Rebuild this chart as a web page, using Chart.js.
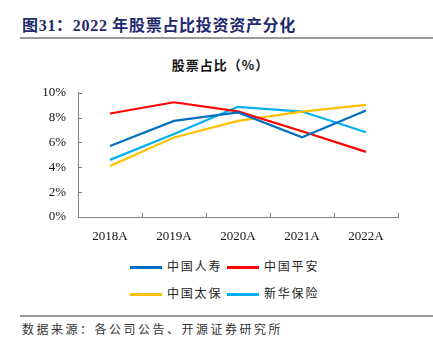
<!DOCTYPE html>
<html>
<head>
<meta charset="utf-8">
<script src="https://cdn.jsdelivr.net/npm/chart.js@4"></script>
<style>
  body { margin: 0; width: 433px; height: 351px; background: #fff; position: relative; overflow: hidden;
         font-family: "Liberation Serif", "Noto Sans CJK SC", serif; }
  .title { position: absolute; left: 22px; top: 12px; font-size: 16px; font-weight: bold; color: #1f2a6e; white-space: nowrap; letter-spacing: 0.7px; }
  .rule { position: absolute; left: 20px; right: 0; height: 2px; background: #9a9a9a; }
  .subtitle { position: absolute; left: 4px; width: 433px; top: 55px; text-align: center; font-size: 13px; font-weight: bold;
              font-family: "Noto Sans CJK SC", sans-serif; color: #111; letter-spacing: 1px; }
  #wrap { position: absolute; left: 0; top: 73px; width: 433px; height: 177px; }
  .legend { position: absolute; font-family: "Noto Sans CJK SC", sans-serif; font-size: 12px; color: #222; letter-spacing: 1.8px; }
  .legend .item { position: absolute; white-space: nowrap; }
  .legend .swatch { position: absolute; top: 7px; width: 32px; height: 3px; }
  .legend .txt { position: absolute; left: 37px; top: -2px; }
  .source { position: absolute; left: 22px; top: 320px; font-size: 12px; color: #333; letter-spacing: 2.5px;
            font-family: "Noto Sans CJK SC", sans-serif; white-space: nowrap; }
</style>
</head>
<body>
<div class="title">图31：2022 年股票占比投资资产分化</div>
<div class="rule" style="top:37px"></div>
<div class="subtitle">股票占比（%）</div>
<div id="wrap"><canvas id="c"></canvas></div>
<div class="legend" id="legend"></div>
<div class="rule" style="top:315px"></div>
<div class="source">数据来源：各公司公告、开源证券研究所</div>

<script>
const years = ['2018A', '2019A', '2020A', '2021A', '2022A'];
const chinaLife = [5.72, 7.74, 8.42, 6.42, 8.57];
const pingAn = [8.33, 9.24, 8.5, 6.9, 5.24];
const cpic = [4.11, 6.4, 7.74, 8.49, 9.03];
const newChina = [4.6, 6.69, 8.87, 8.49, 6.82];
const yTicks = [0, 2, 4, 6, 8, 10];

const series = [
  { label: '中国人寿', data: chinaLife, color: '#0070C0' },
  { label: '中国平安', data: pingAn, color: '#FF0000' },
  { label: '中国太保', data: cpic, color: '#FFC000' },
  { label: '新华保险', data: newChina, color: '#00B0F0' }
];

// legend in html, 2 x 2
const legendPos = [[130, 259], [227, 259], [130, 286], [227, 286]];
const legend = document.getElementById('legend');
series.forEach((s, i) => {
  const it = document.createElement('div');
  it.className = 'item';
  it.style.left = legendPos[i][0] + 'px';
  it.style.top = legendPos[i][1] + 'px';
  it.innerHTML = '<div class="swatch" style="background:' + s.color + '"></div><div class="txt">' + s.label + '</div>';
  legend.appendChild(it);
});

// inner tick marks
const innerTicks = {
  id: 'innerTicks',
  afterDraw(chart) {
    const c = chart.ctx;
    const x = chart.scales.x, y = chart.scales.y;
    c.save();
    c.strokeStyle = '#808080';
    c.lineWidth = 1;
    c.beginPath();
    y.ticks.forEach((t, i) => {
      const py = Math.round(y.getPixelForTick(i)) + 0.5;
      c.moveTo(x.left, py); c.lineTo(x.left + 4, py);
    });
    const step = (x.right - x.left) / years.length;
    for (let i = 0; i <= years.length; i++) {
      const px = Math.round(x.left + i * step) + 0.5;
      c.moveTo(px, y.bottom); c.lineTo(px, y.bottom - 4);
    }
    c.stroke();
    c.restore();
  }
};

new Chart(document.getElementById('c'), {
  type: 'line',
  data: {
    labels: years,
    datasets: series.map(s => ({
      label: s.label,
      data: s.data,
      borderColor: s.color,
      backgroundColor: s.color,
      borderWidth: 2.2,
      pointRadius: 0,
      tension: 0
    }))
  },
  options: {
    responsive: true,
    maintainAspectRatio: false,
    animation: false,
    layout: { padding: { top: 6, right: 35, left: 0, bottom: 0 } },
    plugins: { legend: { display: false }, tooltip: { enabled: false } },
    scales: {
      x: {
        offset: true,
        grid: { display: false, drawTicks: false },
        border: { display: true, color: '#808080', width: 1 },
        ticks: { color: '#111', padding: 12, font: { family: 'Liberation Serif', size: 13 } },
        afterFit: s => { s.height = 33; }
      },
      y: {
        min: 0,
        max: 10,
        afterBuildTicks: s => { s.ticks = yTicks.map(v => ({ value: v })); },
        grid: { display: false, drawTicks: false },
        border: { display: true, color: '#808080', width: 1 },
        ticks: { color: '#111', padding: 12, font: { family: 'Liberation Serif', size: 13 },
                 callback: v => v + '%' },
        afterFit: s => { s.width = 78; }
      }
    }
  },
  plugins: [innerTicks]
});
</script>
</body>
</html>
